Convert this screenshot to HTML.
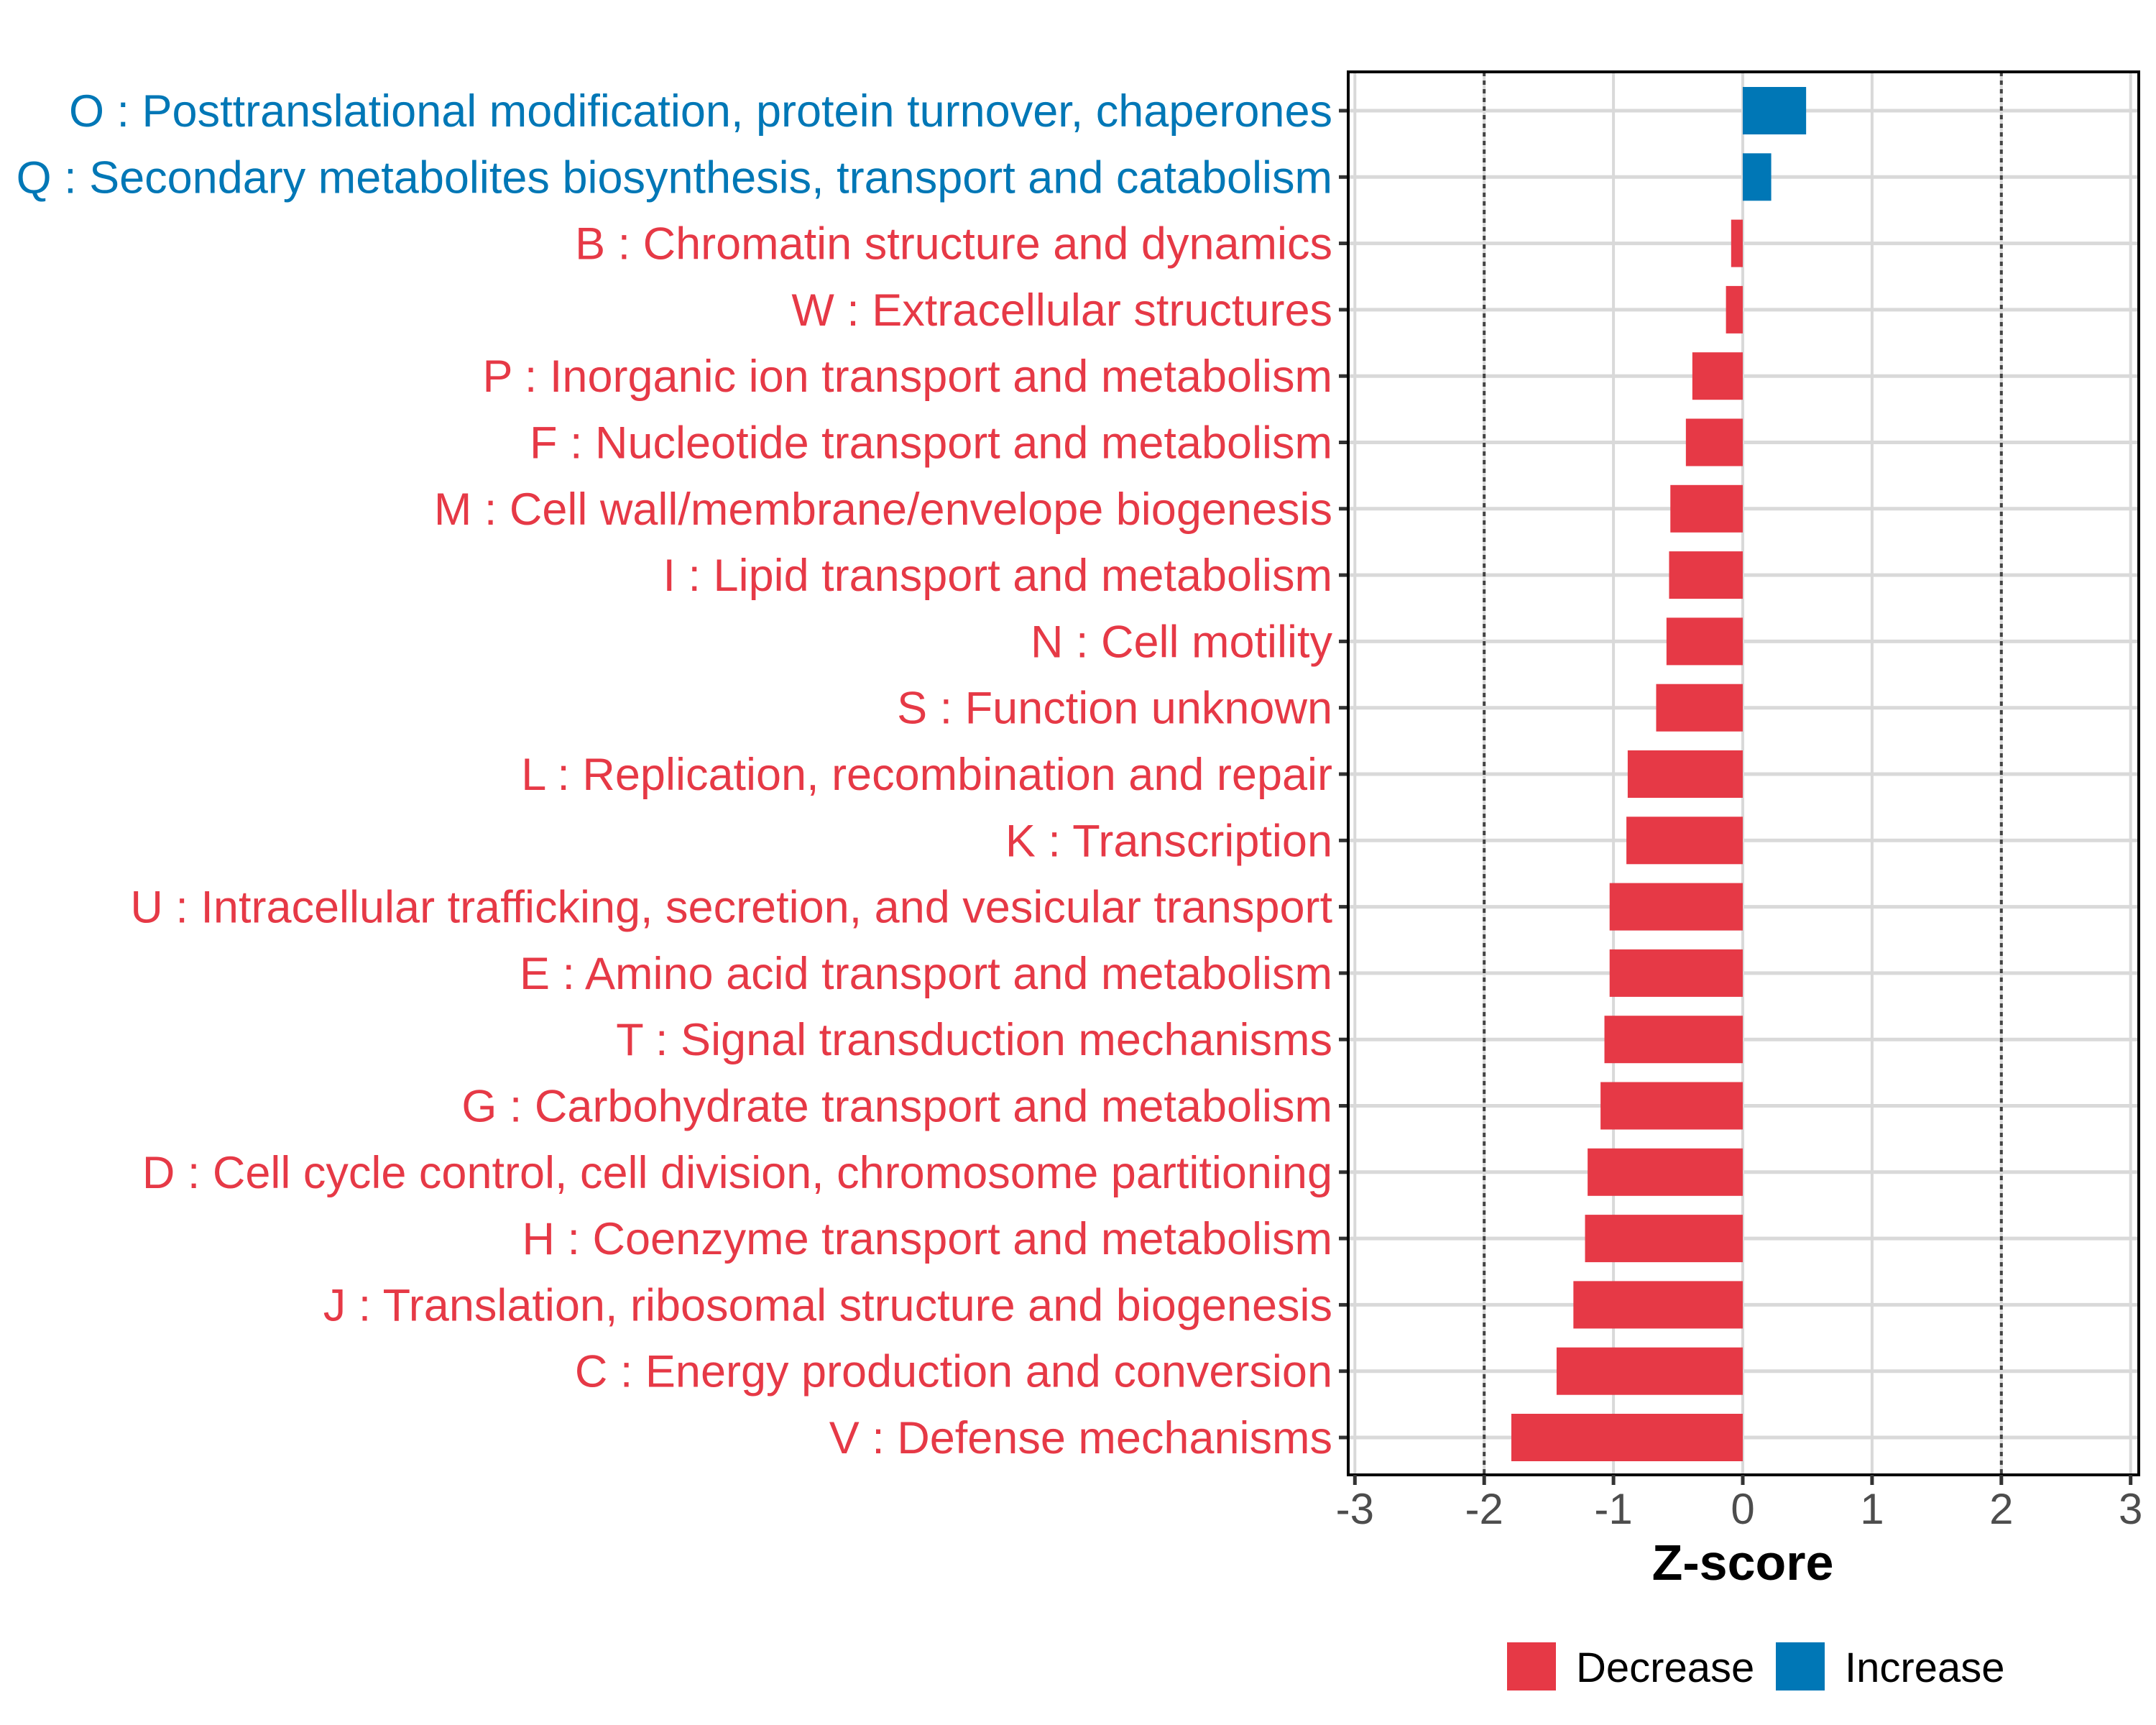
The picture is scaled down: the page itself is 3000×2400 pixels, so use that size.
<!DOCTYPE html>
<html><head><meta charset="utf-8"><style>
html,body{margin:0;padding:0;background:#fff;}
svg{display:block;font-family:"Liberation Sans",Arial,sans-serif;}
</style></head><body>
<svg id="chart" width="3000" height="2400" viewBox="0 0 3000 2400" xmlns="http://www.w3.org/2000/svg">
<rect x="0" y="0" width="3000" height="2400" fill="#fff"/>
<g id="grid"></g><g id="bars"></g><g id="axes"></g><g id="labels"></g>
<text x="2425" y="2198" font-size="70" font-weight="bold" text-anchor="middle" fill="#000">Z-score</text>
<g>
<rect x="2097" y="2285" width="68" height="67" fill="#E63946"/>
<text x="2193" y="2340" font-size="58" fill="#000">Decrease</text>
<rect x="2471" y="2285" width="68" height="67" fill="#0077B6"/>
<text x="2567" y="2340" font-size="58" fill="#000">Increase</text>
</g>
</svg>
<script>
const categories = ["O : Posttranslational modification, protein turnover, chaperones","Q : Secondary metabolites biosynthesis, transport and catabolism","B : Chromatin structure and dynamics","W : Extracellular structures","P : Inorganic ion transport and metabolism","F : Nucleotide transport and metabolism","M : Cell wall/membrane/envelope biogenesis","I : Lipid transport and metabolism","N : Cell motility","S : Function unknown","L : Replication, recombination and repair","K : Transcription","U : Intracellular trafficking, secretion, and vesicular transport","E : Amino acid transport and metabolism","T : Signal transduction mechanisms","G : Carbohydrate transport and metabolism","D : Cell cycle control, cell division, chromosome partitioning","H : Coenzyme transport and metabolism","J : Translation, ribosomal structure and biogenesis","C : Energy production and conversion","V : Defense mechanisms"];
const zscores = [0.49,0.22,-0.09,-0.13,-0.39,-0.44,-0.56,-0.57,-0.59,-0.67,-0.89,-0.90,-1.03,-1.03,-1.07,-1.10,-1.20,-1.22,-1.31,-1.44,-1.79];
const xTicks = [-3,-2,-1,0,1,2,3];
const xTickLabels = ["-3","-2","-1","0","1","2","3"];
const thresholds = [-2,2];

const NS="http://www.w3.org/2000/svg";
const PL=1876,PR=2976,PT=100,PB=2052;
function sx(v){return 2425+v*179.9;}
function sy(i){return 154+i*92.3;}
function mk(tag,attrs,parent){
  const e=document.createElementNS(NS,tag);
  Object.keys(attrs).forEach(function(k){e.setAttribute(k,String(attrs[k]));});
  document.getElementById(parent).appendChild(e);
  return e;
}
try{
xTicks.forEach(function(t){
  const g=mk('line',{x1:sx(t),x2:sx(t),y1:PT,y2:PB,stroke:'#d9d9d9','stroke-width':4},'grid');
  
  
});
categories.forEach(function(c,i){
  const g=mk('line',{x1:PL,x2:PR,y1:sy(i),y2:sy(i),stroke:'#d9d9d9','stroke-width':5},'grid');
  
  
});
thresholds.forEach(function(t){
  const d=mk('line',{x1:sx(t),x2:sx(t),y1:PT,y2:PB,stroke:'#444','stroke-width':4,'stroke-dasharray':'6 6'},'grid');
  
  
});
for(let i=0;i<zscores.length;i++){
  const v=zscores[i];
  const x0=Math.min(sx(0),sx(v));
  const w=Math.abs(sx(v)-sx(0));
  const col=v>=0?'#0077B6':'#E63946';
  const b=mk('rect',{x:x0,y:sy(i)-33,width:w,height:66,fill:col},'bars');
  
  
  const t=mk('text',{x:1854,y:sy(i)+22,'font-size':63,'text-anchor':'end',fill:col},'labels');
  t.textContent=categories[i];
  
  
  const tk=mk('line',{x1:1863,x2:PL,y1:sy(i),y2:sy(i),stroke:'#333','stroke-width':5},'axes');
  
  
}
const fr=mk('rect',{x:PL,y:PT,width:PR-PL,height:PB-PT,fill:'none',stroke:'#000','stroke-width':4},'axes');


for(let i=0;i<xTicks.length;i++){
  const t=xTicks[i];
  const tk=mk('line',{x1:sx(t),x2:sx(t),y1:PB,y2:PB+14,stroke:'#333','stroke-width':5},'axes');
  
  
  const lb=mk('text',{x:sx(t),y:2120,'font-size':60,'text-anchor':'middle',fill:'#4d4d4d'},'axes');
  lb.textContent=xTickLabels[i];
  
  
}
}catch(e){}
</script>
</body></html>
